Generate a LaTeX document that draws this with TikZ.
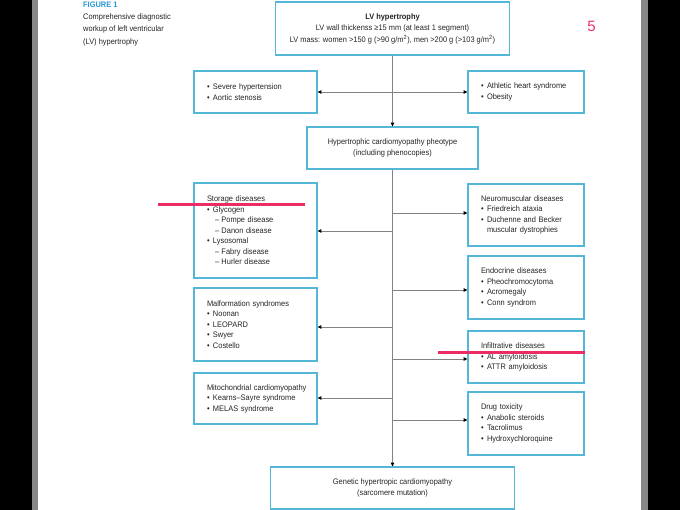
\documentclass[tikz,border=0pt]{standalone}
\usepackage{fontspec}
\setmainfont{Liberation Sans}[FakeStretch=0.93]
\newfontfamily\numfont{Liberation Sans}
\usetikzlibrary{arrows.meta}
\definecolor{boxc}{RGB}{85,183,216}
\definecolor{linec}{RGB}{130,130,130}
\definecolor{txt}{RGB}{35,35,35}
\definecolor{figblue}{RGB}{40,150,212}
\definecolor{pinkc}{RGB}{236,45,100}
\definecolor{edgegray}{RGB}{135,135,135}
\newcommand{\blt}{\makebox[6pt][l]{\textbullet}}
\newcommand{\dsh}{\hspace*{8pt}\makebox[6.5pt][l]{--}}
\begin{document}
\begin{tikzpicture}[x=1pt,y=-1pt,
  box/.style={draw=boxc,line width=1.1pt,rectangle,inner xsep=13pt,inner ysep=0pt,
    align=left,text=txt,font=\fontsize{8}{10.5}\selectfont},
  cbox/.style={draw=boxc,line width=1.1pt,rectangle,inner sep=0pt,
    align=center,text=txt,font=\fontsize{8}{10.5}\selectfont},
  arr/.style={draw=linec,line width=0.8pt,-{Triangle[length=3.8pt,width=3.4pt,black]}},
  ln/.style={draw=linec,line width=0.8pt},
  pinkline/.style={draw=pinkc,line width=3pt}]
\useasboundingbox (0,0) rectangle (680,510);
\fill[black] (0,0) rectangle (32,510);
\fill[edgegray] (32,0) rectangle (38,510);
\fill[edgegray] (641,0) rectangle (648,510);
\fill[black] (648,0) rectangle (680,510);

% caption
\node[anchor=base west,inner sep=0pt,text=figblue,font=\bfseries\fontsize{8}{10}\selectfont] (fig) at (83,7.5) {FIGURE 1};
\node[anchor=base west,inner sep=0pt,text=txt,font=\fontsize{8}{12.5}\selectfont] (cap1) at (83,19.5) {Comprehensive diagnostic};
\node[anchor=base west,inner sep=0pt,text=txt,font=\fontsize{8}{12.5}\selectfont] (cap2) at (83,32) {workup of left ventricular};
\node[anchor=base west,inner sep=0pt,text=txt,font=\fontsize{8}{12.5}\selectfont] (cap3) at (83,44.5) {(LV) hypertrophy};
\node[text=pinkc,inner sep=0pt,font=\numfont\fontsize{15}{15}\selectfont] (five) at (591.5,26.5) {5};

% boxes
\node[cbox,minimum width=234pt,minimum height=53pt,font=\fontsize{8}{11.5}\selectfont] (top) at (392.5,28.5)
  {\textbf{LV hypertrophy}\\LV wall thickenss ≥15 mm (at least 1 segment)\\LV mass: women >150 g (>90 g/m\textsuperscript{2}), men >200 g (>103 g/m\textsuperscript{2})};
\node[box,text width=97pt,minimum height=42pt] (sev) at (255.5,92)
  {\blt Severe hypertension\\\blt Aortic stenosis};
\node[box,text width=90pt,minimum height=42pt] (ath) at (526,92)
  {\blt Athletic heart syndrome\\\blt Obesity};
\node[cbox,minimum width=171pt,minimum height=42pt] (hcm) at (392.5,148)
  {Hypertrophic cardiomyopathy pheotype\\(including phenocopies)};
\node[box,text width=97pt,minimum height=95pt] (sto) at (255.5,230.5)
  {Storage diseases\\\blt Glycogen\\\dsh Pompe disease\\\dsh Danon disease\\\blt Lysosomal\\\dsh Fabry disease\\\dsh Hurler disease};
\node[box,text width=97pt,minimum height=73pt] (mal) at (255.5,324.5)
  {Malformation syndromes\\\blt Noonan\\\blt LEOPARD\\\blt Swyer\\\blt Costello};
\node[box,text width=97pt,minimum height=51pt] (mit) at (255.5,398.5)
  {\makebox[97pt][l]{Mitochondrial cardiomyopathy}\\\blt Kearns--Sayre syndrome\\\blt MELAS syndrome};
\node[box,text width=90pt,minimum height=62pt] (neu) at (526,215)
  {Neuromuscular diseases\\\blt Friedreich ataxia\\\blt Duchenne and Becker\\\hspace*{6pt}muscular dystrophies};
\node[box,text width=90pt,minimum height=63pt] (end) at (526,287.5)
  {Endocrine diseases\\\blt Pheochromocytoma\\\blt Acromegaly\\\blt Conn syndrom};
\node[box,text width=90pt,minimum height=52pt] (inf) at (526,357)
  {Infiltrative diseases\\\blt AL amyloidosis\\\blt ATTR amyloidosis};
\node[box,text width=90pt,minimum height=63pt] (drg) at (526,423.5)
  {Drug toxicity\\\blt Anabolic steroids\\\blt Tacrolimus\\\blt Hydroxychloroquine};
\node[cbox,minimum width=244pt,minimum height=42pt] (gen) at (392.5,488)
  {Genetic hypertropic cardiomyopathy\\(sarcomere mutation)};

% junctions
\coordinate (j0) at (392.5,92);
\coordinate (b1) at (392.5,213);
\coordinate (b2) at (392.5,231);
\coordinate (b3) at (392.5,290);
\coordinate (b4) at (392.5,327);
\coordinate (b5) at (392.5,359);
\coordinate (b6) at (392.5,398);
\coordinate (b7) at (392.5,420);

% connectors
\draw[arr] (top.south) -- (hcm.north);
\draw[arr] (j0) -- (sev.east |- j0);
\draw[arr] (j0) -- (ath.west |- j0);
\draw[arr] (hcm.south) -- (gen.north);
\draw[arr] (b1) -- (neu.west |- b1);
\draw[arr] (b2) -- (sto.east |- b2);
\draw[arr] (b3) -- (end.west |- b3);
\draw[arr] (b4) -- (mal.east |- b4);
\draw[arr] (b5) -- (inf.west |- b5);
\draw[arr] (b6) -- (mit.east |- b6);
\draw[arr] (b7) -- (drg.west |- b7);

% pink annotation strokes
\coordinate (p1a) at (158,205);
\coordinate (p1b) at (305,205);
\coordinate (p2a) at (438,352.5);
\coordinate (p2b) at (585,352.5);
\draw[pinkline] (p1a) -- (p1b);
\draw[pinkline] (p2a) -- (p2b);
\end{tikzpicture}
\end{document}
